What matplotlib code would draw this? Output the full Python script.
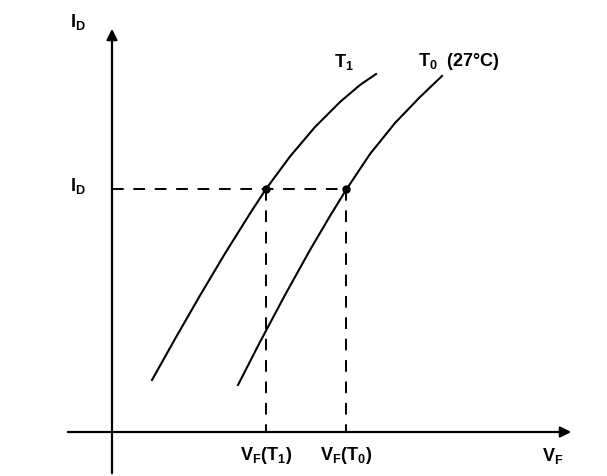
import matplotlib.pyplot as plt

plt.rcParams['font.family'] = ['Liberation Sans', 'DejaVu Sans']
plt.rcParams['mathtext.default'] = 'regular'

H = 476

# curve points (x, y in pixels from top)
t1_x = [152, 175, 200, 225, 250, 266, 290, 315, 340, 360, 376]
t1_y = [380, 339, 295.5, 253.5, 213.5, 189, 156.5, 127, 102, 85, 74]
t0_x = [238, 260, 285, 310, 330, 346, 370, 395, 420, 442]
t0_y = [385, 342, 295, 250, 216, 190, 154, 123, 97, 76]

# operating point
id_level = 189
vf_t1 = 266
vf_t0 = 346

fig = plt.figure(figsize=(6.07, 4.76), dpi=100)
ax = fig.add_axes([0, 0, 1, 1])
ax.set_xlim(0, 607)
ax.set_ylim(0, H)
ax.axis('off')

def fy(v):
    return H - v

# axes with arrows
ax.annotate('', xy=(112, fy(26)), xytext=(112, fy(476)),
            arrowprops=dict(arrowstyle='-|>', color='black', lw=1.6, mutation_scale=16))
ax.annotate('', xy=(574, fy(432)), xytext=(65, fy(432)),
            arrowprops=dict(arrowstyle='-|>', color='black', lw=1.6, mutation_scale=16))

# curves
ax.plot(t1_x, [fy(v) for v in t1_y], color='black', lw=1.5)
ax.plot(t0_x, [fy(v) for v in t0_y], color='black', lw=1.5)

# dashed guides
ax.plot([112, vf_t0], [fy(id_level), fy(id_level)], color='black', lw=1.4, dashes=(6, 5))
ax.plot([vf_t1, vf_t1], [fy(id_level), fy(432)], color='black', lw=1.4, dashes=(6, 5))
ax.plot([vf_t0, vf_t0], [fy(id_level), fy(432)], color='black', lw=1.4, dashes=(6, 5))
ax.plot([vf_t1, vf_t0], [fy(id_level), fy(id_level)], 'o', color='black', ms=5)

# labels
fs = 13
ax.text(70, fy(22), '$I_D$', fontsize=fs, fontweight='bold', ha='left', va='center')
ax.text(70, fy(186), '$I_D$', fontsize=fs, fontweight='bold', ha='left', va='center')
ax.text(334, fy(62), '$T_1$', fontsize=fs, fontweight='bold', ha='left', va='center')
ax.text(418, fy(62), '$T_0$  (27°C)', fontsize=fs, fontweight='bold', ha='left', va='center')
ax.text(vf_t1, fy(455), '$V_F(T_1)$', fontsize=fs, fontweight='bold', ha='center', va='center')
ax.text(vf_t0, fy(455), '$V_F(T_0)$', fontsize=fs, fontweight='bold', ha='center', va='center')
ax.text(553, fy(456), '$V_F$', fontsize=fs, fontweight='bold', ha='center', va='center')

fig.savefig('out.png', dpi=100)
